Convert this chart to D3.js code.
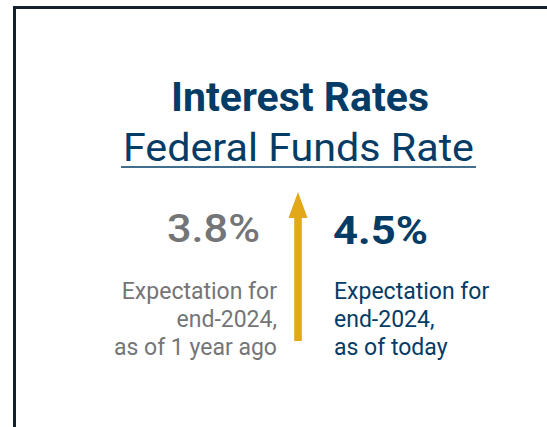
<!DOCTYPE html>
<html>
<head>
<meta charset="utf-8">
<script src="https://cdn.jsdelivr.net/npm/d3@7"></script>
<style>
  html, body { margin: 0; padding: 0; background: #fff; }
  svg { display: block; font-family: Roboto, "Open Sans", sans-serif; }
</style>
</head>
<body>
<div id="chart"></div>
<script>
const title = "Interest Rates";
const subtitle = "Federal Funds Rate";
const periods = ["1 year ago", "today"];
const rates = [3.8, 4.5];
const notes = [
    ["Expectation for", "end-2024,", "as of 1 year ago"],
    ["Expectation for", "end-2024,", "as of today"]
];

const width = 547,
    height = 427,
    navy = "#053c66",
    grey = "#747577",
    gold = "#e2a81a",
    format = d3.format(".1f");

const svg = d3.select("#chart").append("svg")
    .attr("width", width)
    .attr("height", height);

// card border, runs off the right and bottom edges
svg.append("rect")
    .attr("x", 14.5)
    .attr("y", 7.5)
    .attr("width", 600)
    .attr("height", 500)
    .attr("fill", "none")
    .attr("stroke", "#13202e")
    .attr("stroke-width", 3);

svg.append("text")
    .attr("x", 300)
    .attr("y", 111)
    .attr("text-anchor", "middle")
    .attr("fill", navy)
    .attr("font-size", 41)
    .attr("font-weight", 700)
    .attr("textLength", 258)
    .attr("lengthAdjust", "spacingAndGlyphs")
    .text(title);

svg.append("text")
    .attr("x", 298.5)
    .attr("y", 161)
    .attr("text-anchor", "middle")
    .attr("fill", navy)
    .attr("font-size", 38.5)
    .attr("textLength", 351)
    .attr("lengthAdjust", "spacingAndGlyphs")
    .text(subtitle);

svg.append("line")
    .attr("x1", 121)
    .attr("x2", 476)
    .attr("y1", 167)
    .attr("y2", 167)
    .attr("stroke", navy)
    .attr("stroke-width", 1.6);

// arrow length follows the change in rate
const y = d3.scaleLinear()
    .domain(d3.extent(rates))
    .range([341, 192]);

const ax = 298;
svg.append("rect")
    .attr("x", ax - 3.8)
    .attr("width", 7.6)
    .attr("y", y(rates[1]) + 24)
    .attr("height", y(rates[0]) - y(rates[1]) - 24)
    .attr("fill", gold);

svg.append("path")
    .attr("d", d3.line()([[ax, y(rates[1])], [ax + 9.5, y(rates[1]) + 26], [ax - 9.5, y(rates[1]) + 26]]) + "Z")
    .attr("fill", gold);

const cols = [
    { x: 260, anchor: "end", color: grey, w: 93, noteX: 277 },
    { x: 333, anchor: "start", color: navy, w: 95, noteX: 334 }
];

const g = svg.selectAll(".col")
    .data(rates)
    .enter().append("g")
    .attr("class", "col");

g.append("text")
    .attr("x", (d, i) => cols[i].x)
    .attr("y", (d, i) => i ? 244 : 242)
    .attr("text-anchor", (d, i) => cols[i].anchor)
    .attr("fill", (d, i) => cols[i].color)
    .attr("font-size", 39)
    .attr("font-weight", (d, i) => i ? 700 : 500)
    .attr("textLength", (d, i) => cols[i].w)
    .attr("lengthAdjust", "spacingAndGlyphs")
    .text(d => format(d) + "%");

g.each(function(d, i) {
    d3.select(this).selectAll(".note")
        .data(notes[i])
        .enter().append("text")
        .attr("class", "note")
        .attr("x", cols[i].noteX)
        .attr("y", (t, j) => 299 + j * 28)
        .attr("text-anchor", cols[i].anchor)
        .attr("fill", cols[i].color)
        .attr("font-size", 23)
        .text(t => t);
});
</script>
</body>
</html>
